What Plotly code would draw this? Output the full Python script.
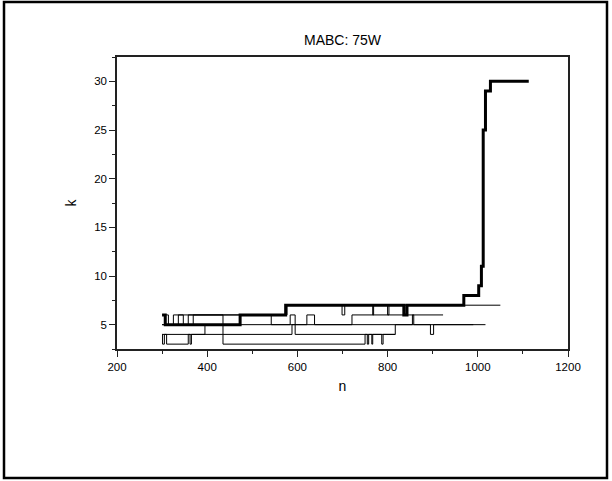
import plotly.graph_objects as go

# ---- data: step runs (n at which k changes, k value) ----
run_a_n = [300, 307, 473, 574, 836, 843, 969, 1002, 1008, 1012, 1017, 1028, 1113]
run_a_k = [6, 5, 6, 7, 6, 7, 8, 9, 11, 25, 29, 30, 30]

run_b_n = [300, 314, 325, 577, 699, 705, 767, 769, 800, 803, 1050]
run_b_k = [6, 5, 6, 7, 6, 7, 6, 7, 6, 7, 7]

run_f_n = [300, 336, 347, 358, 542, 584, 595, 621, 638, 721, 923]
run_f_k = [5, 6, 5, 6, 5, 6, 5, 6, 5, 6, 6]

run_d_n = [300, 369, 435, 855, 858, 1017]
run_d_k = [5, 6, 5, 6, 5, 5]

run_e_n = [300, 395, 435, 588, 595, 817, 895, 902, 990]
run_e_k = [4, 5, 4, 5, 4, 5, 4, 5, 5]

run_g_n = [300, 301, 305, 310, 358, 362, 365, 435, 750, 755, 758, 765, 767, 787, 790, 817]
run_g_k = [4, 3, 4, 3, 4, 3, 4, 3, 4, 3, 4, 3, 4, 3, 4, 4]

x_ticks = [200, 400, 600, 800, 1000, 1200]
y_ticks = [5, 10, 15, 20, 25, 30]

fig = go.Figure()
thin_runs = [(run_b_n, run_b_k), (run_f_n, run_f_k), (run_d_n, run_d_k),
             (run_e_n, run_e_k), (run_g_n, run_g_k)]
for xs, ys in thin_runs:
    fig.add_trace(go.Scatter(x=xs, y=ys, mode="lines", line=dict(color="black", width=1, shape="hv"),
                             showlegend=False, hoverinfo="skip"))
fig.add_trace(go.Scatter(x=run_a_n, y=run_a_k, mode="lines", line=dict(color="black", width=3, shape="hv"),
                         showlegend=False, hoverinfo="skip"))

L, R, T, B = 117, 568, 57, 349
W, H = 612, 481
pw, ph = R - L, B - T

def px(x):
    return (x - L) / pw

def py(y):
    return (B - y) / ph

font = "Liberation Sans, Arial, sans-serif"
fig.update_layout(
    width=W, height=H,
    margin=dict(l=L, r=W - R, t=T, b=H - B),
    paper_bgcolor="white", plot_bgcolor="white",
    font=dict(family=font, size=11.5, color="black"),
    title=dict(text="MABC: 75W", x=(L + R) / 2 / W, xref="container", y=1 - 40 / H, yref="container",
               xanchor="center", yanchor="middle", font=dict(size=14, family=font)),
    xaxis=dict(range=[200, 1200], tickvals=x_ticks, ticks="outside", ticklen=6, tickwidth=1,
               tickcolor="#222", showline=True, linecolor="#222", linewidth=1.5, mirror=True,
               showgrid=False, zeroline=False,
               minor=dict(dtick=100, tick0=0, ticks="outside", ticklen=3, tickcolor="#222"),
               title=dict(text="n", font=dict(size=14), standoff=10), tickfont=dict(size=11.5)),
    yaxis=dict(range=[2.5, 32.5], tickvals=y_ticks, ticks="outside", ticklen=6, tickwidth=1,
               tickcolor="#222", showline=True, linecolor="#222", linewidth=1.5, mirror=True,
               showgrid=False, zeroline=False,
               minor=dict(dtick=2.5, tick0=0, ticks="outside", ticklen=3, tickcolor="#222"),
               title=dict(text="k", font=dict(size=14), standoff=14), tickfont=dict(size=11.5)),
    shapes=[dict(type="rect", xref="paper", yref="paper",
                 x0=px(4), x1=px(607), y0=py(478), y1=py(2),
                 line=dict(color="black", width=2.5), fillcolor="rgba(0,0,0,0)", layer="above")],
)

fig.write_html("out.html")
